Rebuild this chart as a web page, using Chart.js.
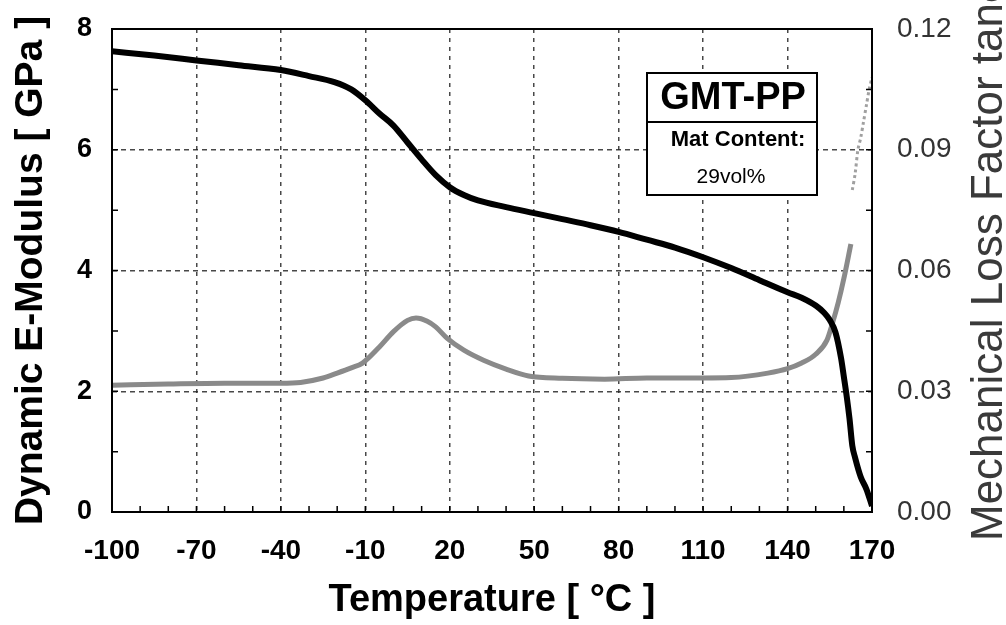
<!DOCTYPE html>
<html><head><meta charset="utf-8">
<script src="https://cdn.jsdelivr.net/npm/chart.js@4/dist/chart.umd.min.js"></script>
<style>html,body{margin:0;padding:0;background:#fff}#wrap{width:1006px;height:625px}</style>
</head><body><div id="wrap"><canvas id="c" width="1006" height="625"></canvas></div>
<script>
// ---- data ----
const temperatureE = [-100,-85,-70,-55,-40,-30,-21,-15,-10,-5,0,5,10,15,20,25,30,40,50,60,70,80,90,100,110,120,130,140,145,150,153,155,157,159,160,161,162,163,164,166,168,170];
const modulusE     = [7.63,7.56,7.48,7.40,7.32,7.22,7.12,7.00,6.82,6.60,6.40,6.12,5.84,5.58,5.38,5.25,5.16,5.05,4.95,4.85,4.75,4.64,4.51,4.38,4.22,4.04,3.84,3.64,3.55,3.42,3.30,3.18,2.98,2.55,2.24,1.92,1.55,1.10,0.90,0.58,0.38,0.10];

const temperatureTan = [-100,-80,-60,-40,-33,-25,-20,-15,-11,-5,0,5,8,12,15,19,25,32,40,48,60,75,90,100,110,120,133,140,145,150,154,156,158,160,162.5];
const lossTan        = [0.0315,0.0318,0.0320,0.0320,0.0322,0.0333,0.0345,0.0358,0.0370,0.0410,0.0448,0.0476,0.0482,0.0474,0.0460,0.0432,0.0402,0.0377,0.0355,0.0338,0.0332,0.0330,0.0333,0.0333,0.0333,0.0334,0.0345,0.0356,0.0370,0.0392,0.0427,0.0470,0.0520,0.0580,0.0666];

const temperatureTanEnd = [163,164,165,166,167,168,169,170];
const lossTanEnd        = [0.080,0.084,0.090,0.093,0.097,0.101,0.105,0.108];

const xTicks = [-100,-70,-40,-10,20,50,80,110,140,170];
const leftTicks = [0,2,4,6,8];
const rightTicks = [0.00,0.03,0.06,0.09,0.12];
const xTitle = 'Temperature [ \u00B0C ]';
const leftTitle = 'Dynamic E-Modulus [ GPa ]';
const rightTitle = 'Mechanical Loss Factor tan\u03B4';
const boxTitle = 'GMT-PP';
const boxLine1 = 'Mat Content:';
const boxLine2 = '29vol%';

// ---- chart ----
const FONT = '"Liberation Sans", Arial, Helvetica, sans-serif';
const toPts = (xs, ys) => xs.map((x, i) => ({x, y: ys[i]}));
const gridColor = (ctx) => {
  const v = ctx.tick && ctx.tick.value;
  const s = ctx.scale;
  if (v === s.min || v === s.max) return 'rgba(0,0,0,0)';
  return 'rgba(40,40,40,0.85)';
};
const noPad = s => { s.paddingTop = 0; s.paddingBottom = 0; s.paddingLeft = 0; s.paddingRight = 0; };

const decor = {
  id: 'decor',
  afterDatasetsDraw(chart) {
    const {ctx, chartArea: a, scales} = chart;
    ctx.save();
    // frame
    ctx.strokeStyle = '#000';
    ctx.lineWidth = 2;
    ctx.setLineDash([]);
    ctx.strokeRect(a.left, a.top, a.right - a.left, a.bottom - a.top);
    // inner minor ticks
    ctx.lineWidth = 1.5;
    ctx.beginPath();
    for (let t = -100; t <= 170; t += 10) {
      const px = scales.x.getPixelForValue(t);
      ctx.moveTo(px, a.bottom); ctx.lineTo(px, a.bottom - 6);
    }
    for (let v = 0; v <= 8; v += 1) {
      const py = scales.y.getPixelForValue(v);
      ctx.moveTo(a.left, py); ctx.lineTo(a.left + 6, py);
    }
    for (let k = 0; k <= 8; k++) {
      const py = scales.y1.getPixelForValue(k * 0.015);
      ctx.moveTo(a.right, py); ctx.lineTo(a.right - 6, py);
    }
    ctx.stroke();
    // label box
    const bx = 647, by = 73, bw = 170, bh = 122, div = 122;
    ctx.fillStyle = '#fff';
    ctx.fillRect(bx, by, bw, bh);
    ctx.lineWidth = 2;
    ctx.strokeRect(bx, by, bw, bh);
    ctx.beginPath(); ctx.moveTo(bx, div); ctx.lineTo(bx + bw, div); ctx.stroke();
    ctx.fillStyle = '#000';
    ctx.textAlign = 'center';
    ctx.textBaseline = 'middle';
    ctx.font = 'bold 38px ' + FONT;
    ctx.fillText(boxTitle, bx + bw / 2 + 1, 99);
    ctx.font = 'bold 22px ' + FONT;
    ctx.fillText(boxLine1, bx + bw / 2 + 6, 140);
    ctx.font = '21px ' + FONT;
    ctx.fillText(boxLine2, bx + bw / 2 - 1, 177);
    // right axis title (reads bottom to top, runs off the top edge as in the reference)
    ctx.translate(1002, 541);
    ctx.rotate(-Math.PI / 2);
    ctx.textAlign = 'left';
    ctx.textBaseline = 'alphabetic';
    ctx.fillStyle = '#3a3a3a';
    ctx.font = '44px ' + FONT;
    ctx.fillText(rightTitle, 0, 0);
    ctx.restore();
  }
};

new Chart(document.getElementById('c'), {
  type: 'line',
  data: {
    datasets: [
      { label: 'E-Modulus', data: toPts(temperatureE, modulusE), yAxisID: 'y',
        borderColor: '#000', borderWidth: 6, pointRadius: 0, tension: 0.4, cubicInterpolationMode: 'monotone', fill: false },
      { label: 'tan delta', data: toPts(temperatureTan, lossTan), yAxisID: 'y1',
        borderColor: '#8a8a8a', borderWidth: 5, pointRadius: 0, tension: 0.4, cubicInterpolationMode: 'monotone', fill: false },
      { label: 'tan delta (end)', data: toPts(temperatureTanEnd, lossTanEnd), yAxisID: 'y1',
        borderColor: '#a0a0a0', borderWidth: 3, borderDash: [3, 3], pointRadius: 0, tension: 0.3, fill: false }
    ]
  },
  options: {
    responsive: false, animation: false, devicePixelRatio: 1,
    layout: { padding: { top: 29, left: 0, right: 0, bottom: 0 } },
    plugins: { legend: { display: false }, tooltip: { enabled: false } },
    scales: {
      x: {
        type: 'linear', min: -100, max: 170, position: 'bottom',
        afterBuildTicks: s => { s.ticks = xTicks.map(v => ({value: v})); },
        afterFit: s => { s.height = 113; noPad(s); },
        grid: { color: gridColor, lineWidth: 1.5, drawTicks: false },
        border: { display: false, dash: [4, 5] },
        ticks: { padding: 22, color: '#000', font: { family: FONT, size: 28, weight: 'bold' }, maxRotation: 0 },
        title: { display: true, text: xTitle, color: '#000', font: { family: FONT, size: 38, weight: 'bold' }, padding: { top: 0, bottom: 2 } }
      },
      y: {
        type: 'linear', min: 0, max: 8, position: 'left',
        afterBuildTicks: s => { s.ticks = leftTicks.map(v => ({value: v})); },
        afterFit: s => { s.width = 112; noPad(s); },
        grid: { color: gridColor, lineWidth: 1.5, drawTicks: false },
        border: { display: false, dash: [5, 4] },
        ticks: { padding: 20, color: '#000', font: { family: FONT, size: 27, weight: 'bold' } },
        title: { display: true, text: leftTitle, color: '#000', font: { family: FONT, size: 39, weight: 'bold' }, padding: { top: 8, bottom: 0 } }
      },
      y1: {
        type: 'linear', min: 0, max: 0.12, position: 'right',
        afterBuildTicks: s => { s.ticks = rightTicks.map(v => ({value: v})); },
        afterFit: s => { s.width = 134; noPad(s); },
        grid: { drawOnChartArea: false, drawTicks: false },
        border: { display: false },
        ticks: { padding: 25, color: '#333', font: { family: FONT, size: 28 }, callback: v => Number(v).toFixed(2) }
      }
    }
  },
  plugins: [decor]
});
</script>
</body></html>
